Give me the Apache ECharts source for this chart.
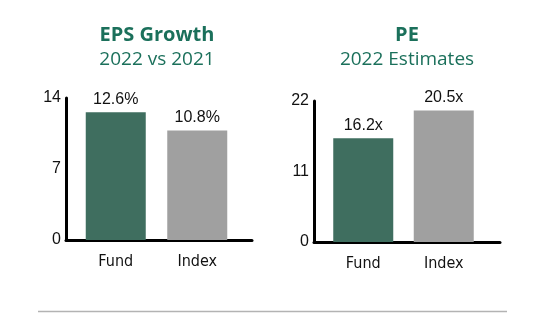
<!DOCTYPE html>
<html><head><meta charset="utf-8">
<script src="https://cdn.jsdelivr.net/npm/echarts@6/dist/echarts.min.js"></script>
<style>html,body{margin:0;padding:0;background:#fff}#c{width:548px;height:321px}</style>
</head><body><div id="c"></div>
<script>
const categories = ['Fund', 'Index'];
const epsValues = [12.6, 10.8];
const epsLabels = ['12.6%', '10.8%'];
const epsTicks = { min: 0, max: 14, interval: 7 };
const peValues = [16.2, 20.5];
const peLabels = ['16.2x', '20.5x'];
const peTicks = { min: 0, max: 22, interval: 11 };
const titles = [['EPS Growth', '2022 vs 2021'], ['PE', '2022 Estimates']];

const GREEN = '#3f6e5f', GRAY = '#a0a0a0', TITLE = '#1b705b';
const narrow = '"Liberation Sans Narrow", "Liberation Sans", sans-serif';
const catFont = '"DejaVu Sans Condensed", "DejaVu Sans", sans-serif';
const titleFont = '"Open Sans", sans-serif';

const chart = echarts.init(document.getElementById('c'), null, { renderer: 'canvas' });

const gridList = [
  { left: 66, top: 98, width: 186, height: 142 },   // left frame
  { left: 75, top: 98, width: 163, height: 142 },   // left bars
  { left: 314, top: 101, width: 186, height: 141 }, // right frame
  { left: 323, top: 101, width: 161, height: 141 }  // right bars
];

const xAxes = [], yAxes = [], series = [];
[[epsValues, epsLabels, epsTicks], [peValues, peLabels, peTicks]].forEach(([vals, labs, tk], i) => {
  const gf = i * 2, gb = i * 2 + 1;
  xAxes.push({ gridIndex: gf, type: 'category', data: [''], axisLine: { lineStyle: { color: '#000', width: 3 } },
    axisTick: { show: false }, axisLabel: { show: false } });
  yAxes.push({ gridIndex: gf, type: 'value', min: tk.min, max: tk.max, interval: tk.interval,
    axisLine: { show: true, lineStyle: { color: '#000', width: 3 } }, axisTick: { show: false }, splitLine: { show: false },
    axisLabel: { color: '#111', fontFamily: narrow, fontSize: 16, margin: 5, padding: [0, 0, 5, 0] } });
  xAxes.push({ gridIndex: gb, type: 'category', data: categories, axisLine: { show: false }, axisTick: { show: false },
    axisLabel: { color: '#111', fontFamily: catFont, fontSize: 16, margin: 14 } });
  yAxes.push({ gridIndex: gb, type: 'value', min: tk.min, max: tk.max, interval: tk.interval, show: false });
  series.push({ type: 'bar', xAxisIndex: xAxes.length - 1, yAxisIndex: yAxes.length - 1, barWidth: 60,
    data: vals.map((v, k) => ({ value: v, itemStyle: { color: k === 0 ? GREEN : GRAY } })),
    label: { show: true, position: 'top', distance: 5, color: '#111', fontFamily: narrow, fontSize: 16,
      formatter: p => labs[p.dataIndex] } });
});

const titleCenters = [152, 402];
const titleObjs = [];
titles.forEach((t, i) => {
  titleObjs.push({ text: t[0], subtext: t[1], left: titleCenters[i], top: 20, textAlign: 'center',
    textStyle: { color: TITLE, fontFamily: titleFont, fontWeight: 'bold', fontSize: 20 },
    subtextStyle: { color: TITLE, fontFamily: titleFont, fontSize: 19 }, itemGap: 5 });
});

chart.setOption({
  animation: false,
  title: titleObjs,
  grid: gridList,
  xAxis: xAxes,
  yAxis: yAxes,
  series: series,
  graphic: [{ type: 'line', shape: { x1: 38, y1: 311.5, x2: 507, y2: 311.5 }, style: { stroke: '#b3b3b3', lineWidth: 1.5 } }]
});
</script></body></html>
